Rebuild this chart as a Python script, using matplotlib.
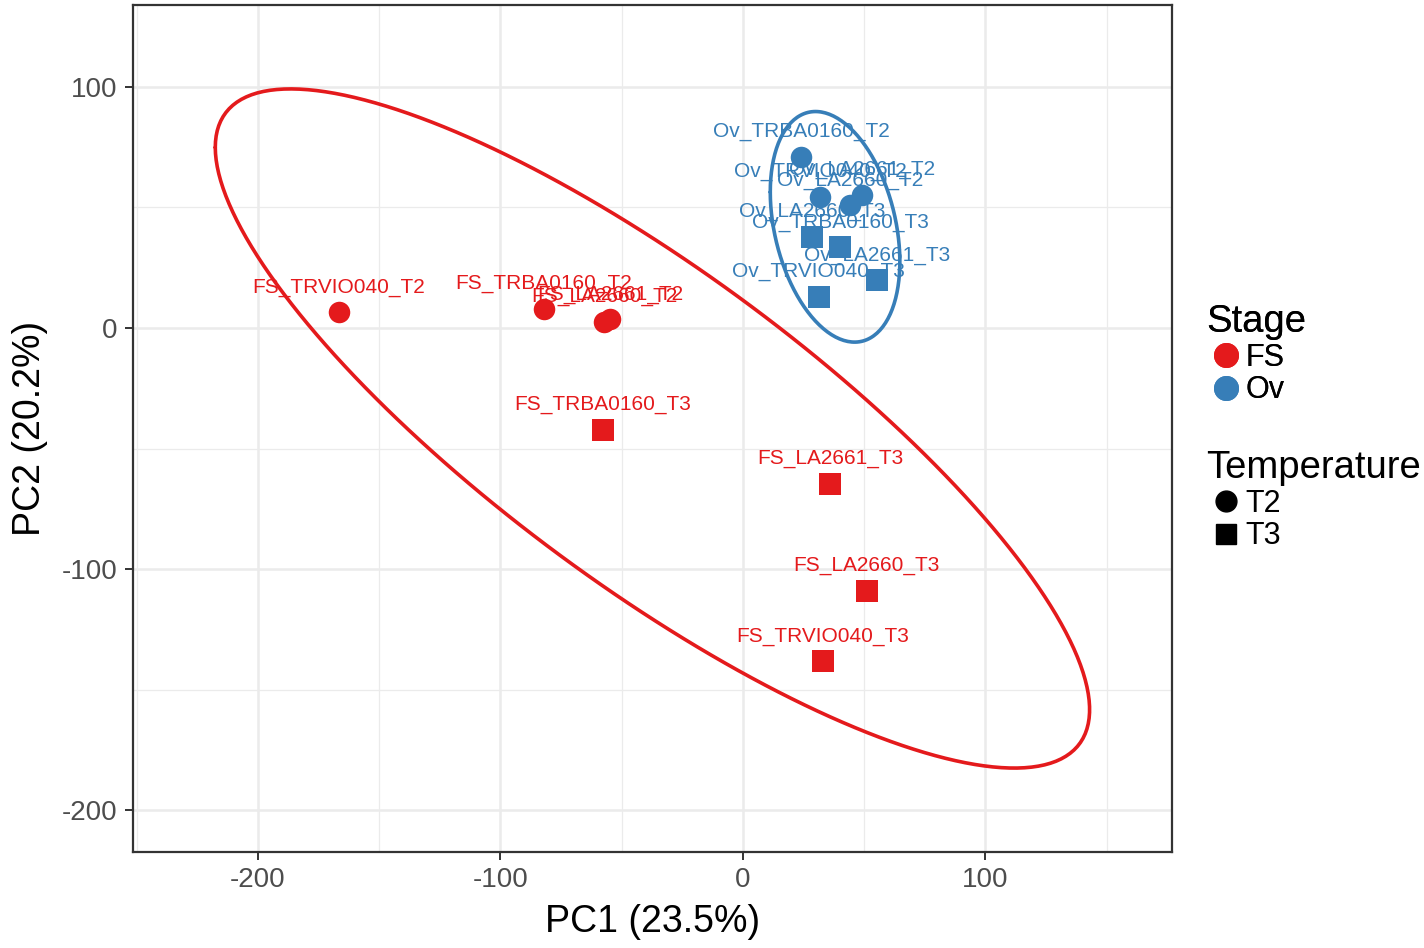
import numpy as np
import matplotlib
matplotlib.use("Agg")
import matplotlib.pyplot as plt
from matplotlib.lines import Line2D

plt.rcParams['font.family'] = ['Liberation Sans', 'DejaVu Sans']
plt.rcParams['axes.unicode_minus'] = False

# данные PCA
samples = ["FS_TRVIO040_T2", "FS_TRBA0160_T2", "FS_LA2660_T2", "FS_LA2661_T2",
           "FS_TRBA0160_T3", "FS_LA2661_T3", "FS_LA2660_T3", "FS_TRVIO040_T3",
           "Ov_TRBA0160_T2", "Ov_TRVIO040_T2", "Ov_LA2661_T2", "Ov_LA2660_T2",
           "Ov_LA2660_T3", "Ov_TRBA0160_T3", "Ov_LA2661_T3", "Ov_TRVIO040_T3"]
stage = ["FS"] * 8 + ["Ov"] * 8
temperature = ["T2", "T2", "T2", "T2", "T3", "T3", "T3", "T3",
               "T2", "T2", "T2", "T2", "T3", "T3", "T3", "T3"]
pc1 = [-166.6, -82.1, -57.3, -54.8, -57.7, 35.9, 51.1, 33.0,
       23.9, 31.8, 49.0, 44.1, 28.5, 40.0, 55.3, 31.3]
pc2 = [6.6, 7.9, 2.5, 3.7, -42.3, -64.7, -109.1, -138.2,
       71.0, 54.4, 55.2, 51.0, 37.8, 33.6, 19.9, 12.9]

colors = {"FS": "#E41A1C", "Ov": "#377EB8"}
markers = {"T2": "o", "T3": "s"}


def ellipse_points(pts, chi2=5.991465):
    # нормальный эллипс, chi2 = qchisq(0.95, 2)
    mu = pts.mean(0)
    sigma = np.cov(pts.T)
    t = np.linspace(-np.pi, np.pi, 200)
    circle = np.column_stack([np.cos(t), np.sin(t)])
    L = np.linalg.cholesky(sigma)
    return mu + np.sqrt(chi2) * circle @ L.T


fig = plt.figure(figsize=(14.24, 9.48), dpi=100)
ax = fig.add_axes([0.0934, 0.1013, 0.7296, 0.8934])

x = np.array(pc1)
y = np.array(pc2)
st = np.array(stage)
tp = np.array(temperature)

for s in ["FS", "Ov"]:
    pts = np.column_stack([x[st == s], y[st == s]])
    e = ellipse_points(pts)
    ax.plot(e[:, 0], e[:, 1], color=colors[s], lw=2.6, zorder=2,
            solid_capstyle="round", solid_joinstyle="round")

for s in ["FS", "Ov"]:
    for t in ["T2", "T3"]:
        m = (st == s) & (tp == t)
        ax.scatter(x[m], y[m], c=colors[s], marker=markers[t],
                   s=240 if t == "T2" else 270, linewidths=0, zorder=3)

for i in range(len(samples)):
    ax.annotate(samples[i], (pc1[i], pc2[i]), xytext=(0, 18), textcoords="offset points",
                ha="center", va="center", fontsize=15, color=colors[stage[i]], zorder=4)

ax.set_xlim(-251.5, 176.9)
ax.set_ylim(-217.4, 134)
ax.set_xticks([-200, -100, 0, 100])
ax.set_yticks([-200, -100, 0, 100])
ax.set_xticks([-250, -150, -50, 50, 150], minor=True)
ax.set_yticks([-150, -50, 50], minor=True)
ax.grid(which="major", color="#EBEBEB", lw=1.8)
ax.grid(which="minor", color="#EBEBEB", lw=0.9)
ax.set_axisbelow(True)
for sp in ax.spines.values():
    sp.set_color("#333333")
    sp.set_linewidth(1.6)
ax.tick_params(which="major", labelsize=20, colors="#333333", labelcolor="#4D4D4D",
               length=6, width=1.4, pad=5)
ax.tick_params(which="minor", length=0)
ax.set_xlabel("PC1 (23.5%)", fontsize=27, labelpad=8)
ax.set_ylabel("PC2 (20.2%)", fontsize=27, labelpad=10)

h_stage = [Line2D([], [], marker="o", ls="", color=colors[s], markersize=17) for s in ["FS", "Ov"]]
h_temp = [Line2D([], [], marker=markers[t], ls="", color="black",
                 markersize=15 if t == "T2" else 14) for t in ["T2", "T3"]]
leg1 = fig.legend(h_stage, ["FS", "Ov"], title="Stage", loc="upper left",
                  bbox_to_anchor=(0.836, 0.695), frameon=False, fontsize=22,
                  title_fontsize=27.5, handletextpad=0.0, labelspacing=0.08,
                  borderpad=0, alignment="left", handlelength=1.3)
leg2 = fig.legend(h_temp, ["T2", "T3"], title="Temperature", loc="upper left",
                  bbox_to_anchor=(0.836, 0.541), frameon=False, fontsize=22,
                  title_fontsize=27.5, handletextpad=0.0, labelspacing=0.08,
                  borderpad=0, alignment="left", handlelength=1.3)
fig.add_artist(leg1)

fig.savefig("out.png", dpi=100)
